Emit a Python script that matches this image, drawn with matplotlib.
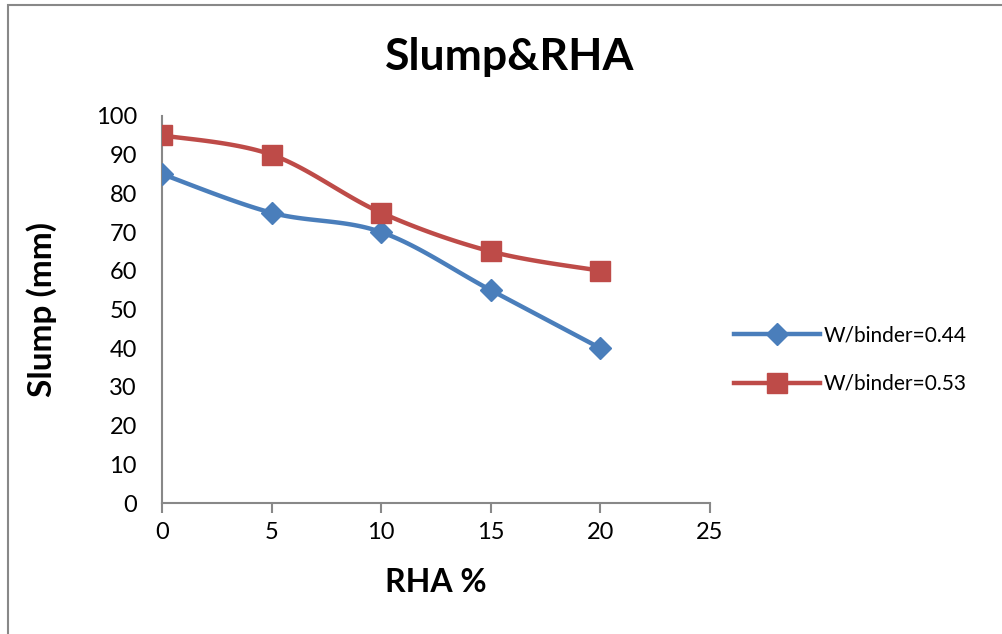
import matplotlib.pyplot as plt
import numpy as np
from matplotlib.patches import Rectangle

plt.rcParams['font.family'] = ['Lato', 'DejaVu Sans']

rha = [0, 5, 10, 15, 20]
slump_044 = [85, 75, 70, 55, 40]
slump_053 = [95, 90, 75, 65, 60]
labels = ['W/binder=0.44', 'W/binder=0.53']

blue = '#4A7EBB'
red = '#BE4B48'


def smooth(x, y, n=30):
    # Catmull-Rom style smoothing like Excel's "smoothed line"
    x = np.asarray(x, float)
    y = np.asarray(y, float)
    px = np.concatenate([[x[0]], x, [x[-1]]])
    py = np.concatenate([[y[0]], y, [y[-1]]])
    xs, ys = [], []
    t = np.linspace(0, 1, n)
    k = 1 / 6.0
    for i in range(1, len(px) - 2):
        p0 = np.array([px[i], py[i]])
        p3 = np.array([px[i + 1], py[i + 1]])
        p1 = p0 + k * (np.array([px[i + 1], py[i + 1]]) - np.array([px[i - 1], py[i - 1]]))
        p2 = p3 - k * (np.array([px[i + 2], py[i + 2]]) - np.array([px[i], py[i]]))
        b = ((1 - t) ** 3)[:, None] * p0 + (3 * (1 - t) ** 2 * t)[:, None] * p1 \
            + (3 * (1 - t) * t ** 2)[:, None] * p2 + (t ** 3)[:, None] * p3
        xs.extend(b[:, 0])
        ys.extend(b[:, 1])
    return xs, ys


fig = plt.figure(figsize=(10.02, 6.34), dpi=100)
fig.patches.append(Rectangle((8 / 1002, -0.1), 1.2, 1 - 5 / 634 + 0.1, transform=fig.transFigure,
                             fill=False, edgecolor='#888888', linewidth=1.5))
ax = fig.add_axes([162 / 1002, 1 - 503 / 634, 548 / 1002, 387 / 634])

for ys, col, mk, ms, lab in [(slump_044, blue, 'D', 11, labels[0]),
                             (slump_053, red, 's', 14, labels[1])]:
    sx, sy = smooth(rha, ys)
    ax.plot(sx, sy, color=col, linewidth=3.2, solid_capstyle='round', zorder=2)
    ax.plot(rha, ys, linestyle='none', marker=mk, markersize=ms, color=col, zorder=3)
    ax.plot([], [], color=col, linewidth=3.2, marker=mk, markersize=ms, label=lab)

ax.set_xlim(0, 25)
ax.set_ylim(0, 100)
ax.set_xticks(range(0, 26, 5))
ax.set_yticks(range(0, 101, 10))
for s in ['top', 'right']:
    ax.spines[s].set_visible(False)
for s in ['left', 'bottom']:
    ax.spines[s].set_color('#888888')
    ax.spines[s].set_linewidth(1.5)
ax.tick_params(axis='x', direction='out', length=7, width=1.5, color='#888888', labelsize=17, pad=7)
ax.tick_params(axis='y', length=0, labelsize=17, pad=18)

ax.set_xlabel('RHA %', fontsize=23, fontweight='bold', labelpad=18)
ax.set_ylabel('Slump (mm)', fontsize=24, fontweight='bold', labelpad=28)
fig.text(510 / 1002, 1 - 57 / 634, 'Slump&RHA', fontsize=32, fontweight='bold', ha='center', va='center')

ax.legend(loc='center left', bbox_to_anchor=(1.01, 0.37), frameon=False, fontsize=15,
          handlelength=4.1, handletextpad=0.2, labelspacing=1.35)

fig.savefig('out.png', dpi=100)
